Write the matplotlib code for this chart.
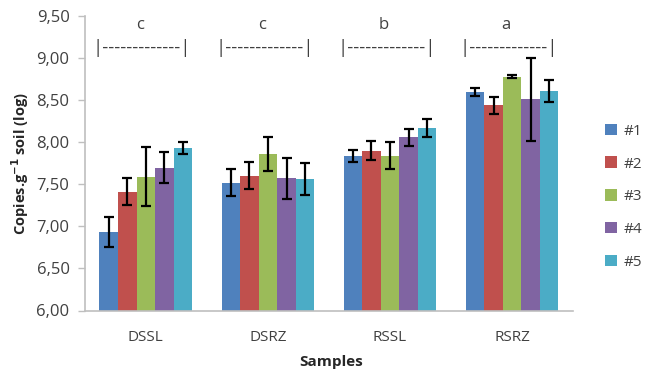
import matplotlib
matplotlib.use("Agg")
import matplotlib.pyplot as plt
import numpy as np
from matplotlib.ticker import FuncFormatter, MultipleLocator
from matplotlib.patches import Patch

plt.rcParams['font.family'] = ['Open Sans', 'DejaVu Sans']

categories = ["DSSL", "DSRZ", "RSSL", "RSRZ"]
series = ["#1", "#2", "#3", "#4", "#5"]
values = [
    [6.93, 7.52, 7.84, 8.60],   # #1
    [7.41, 7.60, 7.90, 8.44],   # #2
    [7.59, 7.86, 7.84, 8.78],   # #3
    [7.70, 7.57, 8.06, 8.51],   # #4
    [7.93, 7.56, 8.17, 8.61],   # #5
]
errors = [
    [0.18, 0.16, 0.07, 0.05],
    [0.16, 0.16, 0.11, 0.10],
    [0.35, 0.20, 0.16, 0.02],
    [0.18, 0.24, 0.10, 0.49],
    [0.07, 0.19, 0.11, 0.13],
]
letters = ["c", "c", "b", "a"]
colors = ["#4F81BD", "#C0504D", "#9BBB59", "#8064A2", "#4BACC6"]

fig = plt.figure(figsize=(6.68, 3.75), dpi=100)
ax = fig.add_axes([0.127, 0.172, 0.731, 0.785])

n = len(series)
group_w = 0.76
bw = group_w / n
x = np.arange(len(categories))
for i in range(n):
    pos = x - group_w / 2 + bw * (i + 0.5)
    ax.bar(pos, values[i], width=bw, color=colors[i], edgecolor='none',
           yerr=errors[i], error_kw=dict(ecolor='black', elinewidth=1.6,
                                          capsize=3.5, capthick=1.6),
           zorder=2)

ax.set_ylim(6.0, 9.5)
ax.set_xlim(-0.5, len(categories) - 0.5)
ax.yaxis.set_major_locator(MultipleLocator(0.5))
ax.yaxis.set_major_formatter(FuncFormatter(lambda v, p: f"{v:.2f}".replace('.', ',')))
ax.set_xticks(x)
ax.set_xticklabels(categories)
ax.tick_params(axis='x', length=0, pad=14, labelsize=11, labelcolor='#404040')
ax.tick_params(axis='y', length=5, width=1, color='#bfbfbf', labelsize=12,
               labelcolor='#404040', direction='out', pad=6)
for s in ['top', 'right']:
    ax.spines[s].set_visible(False)
for s in ['left', 'bottom']:
    ax.spines[s].set_color('#bfbfbf')
    ax.spines[s].set_linewidth(1.2)

for xi, lt in zip(x, letters):
    ax.text(xi - 0.05, 9.40, lt, ha='center', va='center', fontsize=12, color='#404040')
    ax.text(xi - 0.03, 9.12, "|-------------|", ha='center', va='center',
            fontsize=13.5, color='#404040')

ax.set_ylabel(r"Copies.g$^{\mathbf{-1}}$ soil (log)", fontsize=10.5, fontweight='bold',
              color='#262626', labelpad=4)
fig.text(0.495, 0.035, "Samples", ha='center', va='center', fontsize=11,
         fontweight='bold', color='#262626')

handles = [Patch(facecolor=c, edgecolor='none') for c in colors]
fig.legend(handles, series, loc='upper left', bbox_to_anchor=(0.885, 0.707),
           frameon=False, handlelength=0.8, handleheight=0.8, handletextpad=0.4,
           labelspacing=1.15, fontsize=11, labelcolor='#404040')

fig.savefig("out.png", dpi=100)
